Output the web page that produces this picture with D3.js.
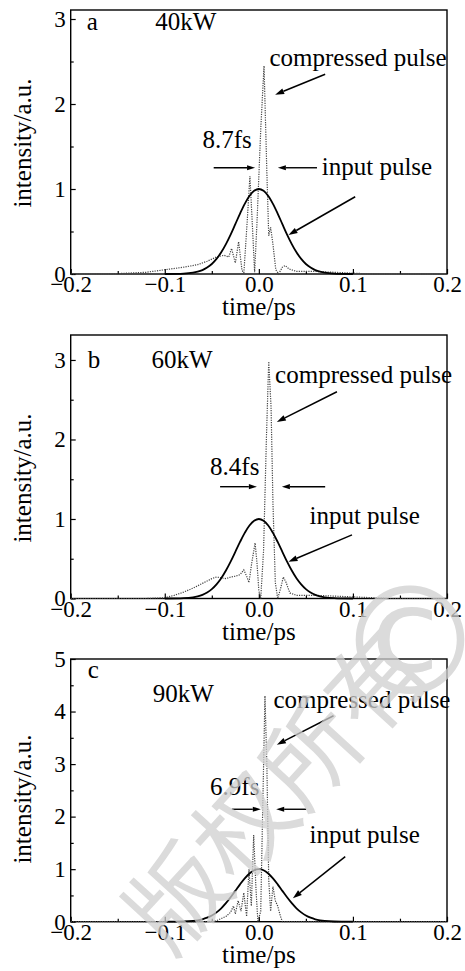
<!DOCTYPE html>
<html><head><meta charset="utf-8">
<script src="https://cdn.jsdelivr.net/npm/d3@7"></script>
<style>
html,body{margin:0;padding:0;background:#fff;}
svg text{font-family:"Liberation Serif","Times New Roman",serif;fill:#000;}
</style></head>
<body>
<svg id="chart" width="465" height="971"></svg>
<script>
// ---------- data ----------
const xTicks = [-0.2, -0.1, 0.0, 0.1, 0.2];
const panelLetters = ["a", "b", "c"];
const powers = ["40kW", "60kW", "90kW"];
const widths = ["8.7fs", "8.4fs", "6.9fs"];
const yTicksA = [0, 1, 2, 3];
const yTicksB = [0, 1, 2, 3];
const yTicksC = [0, 1, 2, 3, 4, 5];

// input pulse (solid), same in all panels
const inputT = [-0.10,-0.08,-0.07,-0.065,-0.06,-0.055,-0.05,-0.045,-0.04,-0.035,-0.03,-0.025,-0.02,-0.015,-0.01,-0.005,0,
                0.005,0.01,0.015,0.02,0.025,0.03,0.035,0.04,0.045,0.05,0.055,0.06,0.065,0.07,0.08,0.10];
const inputV = [0,0.004,0.015,0.027,0.046,0.076,0.118,0.178,0.255,0.352,0.464,0.587,0.711,0.825,0.918,0.979,1,
                0.979,0.918,0.825,0.711,0.587,0.464,0.352,0.255,0.178,0.118,0.076,0.046,0.027,0.015,0.004,0];

// compressed pulses (dotted)
const compTA = [-0.2,-0.16,-0.14,-0.12,-0.10,-0.08,-0.065,-0.055,-0.045,-0.037,-0.032,-0.029,-0.025,-0.0215,-0.018,-0.016,
                -0.0125,-0.0095,-0.007,-0.0045,-0.002,0.002,0.0055,0.0085,0.0105,0.0125,0.015,0.018,0.021,0.025,0.028,0.032,
                0.04,0.06,0.08,0.10,0.12,0.2];
const compVA = [0,0,0.01,0.02,0.05,0.08,0.11,0.15,0.2,0.22,0.2,0.3,0.13,0.38,0.05,0.0,
                0.6,1.15,0.6,0.02,0.6,1.7,2.45,1.2,0.45,0.55,0.35,0.05,0.0,0.08,0.1,0.06,
                0.03,0.03,0.02,0.01,0,0];
const compTB = [-0.2,-0.12,-0.10,-0.09,-0.08,-0.07,-0.06,-0.05,-0.045,-0.04,-0.035,-0.03,-0.025,-0.02,-0.016,-0.013,-0.0105,
                -0.0075,-0.004,-0.002,0.0,0.002,0.005,0.008,0.0105,0.013,0.015,0.0175,0.02,0.023,0.026,0.029,0.033,
                0.04,0.06,0.08,0.10,0.12,0.14,0.2];
const compVB = [0,0,0.01,0.04,0.08,0.13,0.19,0.25,0.27,0.26,0.25,0.27,0.28,0.3,0.36,0.28,0.2,
                0.45,0.7,0.45,0.1,0.0,0.6,2.0,2.98,2.4,1.2,0.2,0.0,0.12,0.27,0.2,0.07,
                0.04,0.04,0.03,0.02,0.01,0,0];
const compTC = [-0.2,-0.06,-0.05,-0.045,-0.04,-0.035,-0.03,-0.027,-0.025,-0.022,-0.019,-0.016,-0.013,-0.0105,-0.008,
                -0.0055,-0.003,-0.001,0.002,0.0045,0.0065,0.0085,0.0105,0.0125,0.015,0.0175,0.02,0.023,0.025,0.2];
const compVC = [0,0,0,0.02,0.06,0.1,0.18,0.3,0.15,0.4,0.2,0.55,0.1,1.0,0.3,
                1.65,0.6,0.0,0.2,2.5,4.3,3.0,0.8,0.2,0.67,0.4,0.3,0.1,0,0];

// ---------- layout ----------
const panels = [
  {letter: panelLetters[0], power: powers[0], width: widths[0], yTicks: yTicksA, ymax: 3.106, top: 10, bottom: 274,
   compT: compTA, compV: compVA, ylabY: 143,
   letterPos: [-0.183, 2.87], powerPos: [-0.110, 2.87],
   compLab: [0.0113, 2.45], compArrow: [[0.0705, 2.35], [0.0173, 2.11]],
   widthLab: [-0.060, 1.48], arrowL: [[-0.048, 1.25], [-0.004, 1.25]], arrowR: [[0.0618, 1.25], [0.0202, 1.25]],
   inLab: [0.0669, 1.165], inArrow: [[0.1024, 0.909], [0.0315, 0.459]]},
  {letter: panelLetters[1], power: powers[1], width: widths[1], yTicks: yTicksB, ymax: 3.314, top: 335, bottom: 598.5,
   compT: compTB, compV: compVB, ylabY: 478,
   letterPos: [-0.182, 2.90], powerPos: [-0.114, 2.90],
   compLab: [0.0173, 2.71], compArrow: [[0.083, 2.60], [0.0191, 2.22]],
   widthLab: [-0.0518, 1.553], arrowL: [[-0.0412, 1.406], [-0.0021, 1.406]], arrowR: [[0.0705, 1.406], [0.0245, 1.406]],
   inLab: [0.0538, 0.937], inArrow: [[0.099, 0.80], [0.0315, 0.463]]},
  {letter: panelLetters[2], power: powers[2], width: widths[2], yTicks: yTicksC, ymax: 5, top: 659, bottom: 921.7,
   compT: compTC, compV: compVC, ylabY: 799,
   letterPos: [-0.182, 4.64], powerPos: [-0.1128, 4.19],
   compLab: [0.0155, 4.06], compArrow: [[0.0794, 3.92], [0.0191, 3.37]],
   widthLab: [-0.0518, 2.41], arrowL: [[-0.0287, 2.14], [0.0021, 2.14]], arrowR: [[0.0503, 2.14], [0.0184, 2.14]],
   inLab: [0.0538, 1.49], inArrow: [[0.0918, 1.24], [0.0362, 0.446]]}
];

const svg = d3.select("#chart");
const left = 70.7, right = 447;
const x = d3.scaleLinear().domain([-0.2, 0.2]).range([left, right]);
const serif = '"Liberation Serif","Times New Roman",serif';

function arrow(g, p0, p1, y, opts) {
  const x0 = x(p0[0]), y0 = y(p0[1]), x1 = x(p1[0]), y1 = y(p1[1]);
  const ang = Math.atan2(y1 - y0, x1 - x0);
  const L = opts.len, W = opts.w;
  const bx = x1 - L * Math.cos(ang), by = y1 - L * Math.sin(ang);
  g.append("line").attr("x1", x0).attr("y1", y0).attr("x2", bx).attr("y2", by)
    .attr("stroke", "#000").attr("stroke-width", opts.sw);
  const px = -Math.sin(ang) * W, py = Math.cos(ang) * W;
  g.append("path").attr("d", `M${x1},${y1}L${bx + px},${by + py}L${bx - px},${by - py}Z`).attr("fill", "#000");
}

panels.forEach(p => {
  const y = d3.scaleLinear().domain([0, p.ymax]).range([p.bottom, p.top]);
  const g = svg.append("g");

  // minor ticks
  const xMinor = d3.range(-0.15, 0.2, 0.1);
  g.append("g").attr("transform", `translate(0,${p.bottom})`)
    .call(d3.axisBottom(x).tickValues(xMinor).tickSizeInner(-3).tickSizeOuter(0).tickFormat(""))
    .call(a => a.select(".domain").remove());
  const yMinor = d3.range(0.5, p.ymax, 1);
  g.append("g").attr("transform", `translate(${left},0)`)
    .call(d3.axisLeft(y).tickValues(yMinor).tickSizeInner(-3).tickSizeOuter(0).tickFormat(""))
    .call(a => a.select(".domain").remove());

  // major ticks and labels
  g.append("g").attr("transform", `translate(0,${p.bottom})`)
    .call(d3.axisBottom(x).tickValues(xTicks).tickSizeInner(-5).tickSizeOuter(0).tickPadding(2).tickFormat(d3.format(".1f")))
    .call(a => a.select(".domain").remove())
    .call(a => a.selectAll("text").attr("font-size", 23).attr("fill", "#000").style("font-family", serif));
  g.append("g").attr("transform", `translate(${left},0)`)
    .call(d3.axisLeft(y).tickValues(p.yTicks).tickSizeInner(-5).tickSizeOuter(0).tickPadding(5).tickFormat(d3.format("d")))
    .call(a => a.select(".domain").remove())
    .call(a => a.selectAll("text").attr("font-size", 23).attr("fill", "#000").style("font-family", serif));
  g.selectAll(".tick line").attr("stroke", "#000").attr("stroke-width", 1.2);

  // frame
  g.append("rect").attr("x", left).attr("y", p.top).attr("width", right - left).attr("height", p.bottom - p.top)
    .attr("fill", "none").attr("stroke", "#000").attr("stroke-width", 1.4);

  // curves
  const comp = p.compT.map((t, i) => [t, p.compV[i]]);
  g.append("path").datum(comp)
    .attr("d", d3.line().x(d => x(d[0])).y(d => y(d[1])))
    .attr("fill", "none").attr("stroke", "#444").attr("stroke-width", 1.2).attr("stroke-dasharray", "1.2,1.2");
  const inp = inputT.map((t, i) => [t, inputV[i]]);
  g.append("path").datum(inp)
    .attr("d", d3.line().curve(d3.curveCatmullRom).x(d => x(d[0])).y(d => y(d[1])))
    .attr("fill", "none").attr("stroke", "#000").attr("stroke-width", 1.8);

  // labels
  const fs = 25;
  const txt = (pos, s) => g.append("text").attr("x", x(pos[0])).attr("y", y(pos[1])).attr("font-size", fs)
    .style("font-family", serif).text(s);
  txt(p.letterPos, p.letter);
  txt(p.powerPos, p.power);
  txt(p.compLab, "compressed pulse");
  txt(p.widthLab, p.width);
  txt(p.inLab, "input pulse");
  arrow(g, p.compArrow[0], p.compArrow[1], y, {len: 9, w: 3, sw: 1.5});
  arrow(g, p.inArrow[0], p.inArrow[1], y, {len: 9, w: 3, sw: 1.5});
  arrow(g, p.arrowL[0], p.arrowL[1], y, {len: 8, w: 2.6, sw: 1.4});
  arrow(g, p.arrowR[0], p.arrowR[1], y, {len: 8, w: 2.6, sw: 1.4});

  // axis titles
  g.append("text").attr("x", (left + right) / 2).attr("y", p.bottom + 41).attr("text-anchor", "middle")
    .attr("font-size", fs).style("font-family", serif).text("time/ps");
  g.append("text").attr("transform", `translate(31,${p.ylabY}) rotate(-90)`).attr("text-anchor", "middle")
    .attr("font-size", fs).style("font-family", serif).text("intensity/a.u.");
});

// watermark
const wm = svg.append("g").attr("opacity", 0.75);
wm.append("text").attr("transform", "translate(272,785) rotate(-47.5)")
  .attr("text-anchor", "middle").attr("dominant-baseline", "central")
  .attr("font-size", 98).style("font-family", '"Noto Sans CJK SC",sans-serif').style("font-weight", 400)
  .style("fill", "#cfcfcf").text("版权所有");
wm.append("text").attr("x", 410).attr("y", 642).attr("text-anchor", "middle").attr("dominant-baseline", "central")
  .attr("font-size", 150).style("font-family", '"DejaVu Sans",sans-serif').style("font-weight", 400)
  .style("fill", "#cfcfcf").text("©");
</script>
</body></html>
